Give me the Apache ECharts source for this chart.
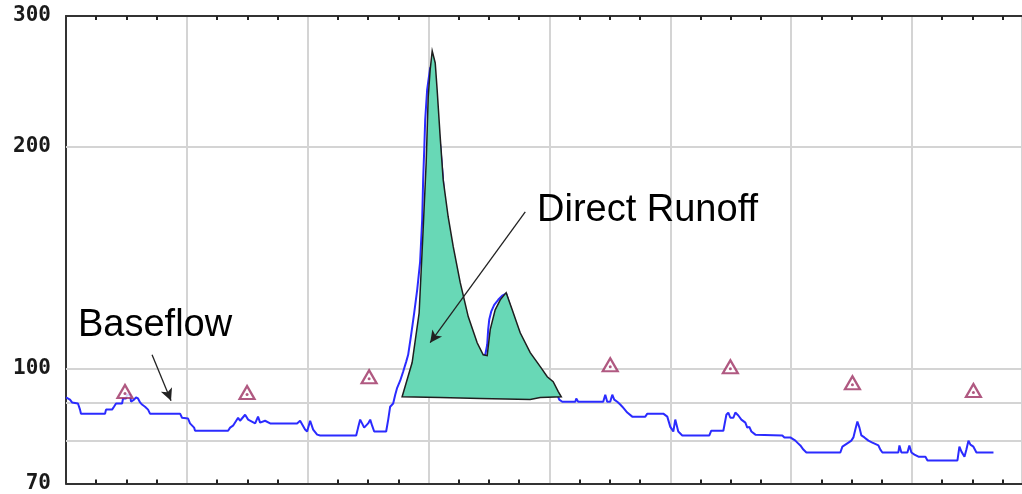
<!DOCTYPE html>
<html>
<head>
<meta charset="utf-8">
<script src="https://cdn.jsdelivr.net/npm/echarts@6/dist/echarts.min.js"></script>
<style>
html,body{margin:0;padding:0;background:#fff;}
#chart{width:1022px;height:494px;}
</style>
</head>
<body>
<div id="chart"></div>
<script>
// ---- data (x in days from chart start, y = discharge) ----
const flowDays = [0,0.033,0.05,0.099,0.116,0.124,0.323,0.331,0.381,0.397,0.414,0.464,0.472,0.497,0.505,0.53,0.538,0.563,0.579,0.596,0.613,0.629,0.654,0.679,0.695,0.944,0.96,1.01,1.026,1.06,1.068,1.341,1.358,1.382,1.424,1.44,1.482,1.507,1.523,1.565,1.589,1.606,1.647,1.689,1.912,1.937,1.978,1.995,2.02,2.045,2.078,2.103,2.401,2.417,2.434,2.45,2.467,2.483,2.5,2.517,2.533,2.55,2.649,2.666,2.682,2.707,2.724,2.74,2.765,2.79,2.815,2.831,2.856,2.881,2.906,2.93,2.947,2.955,2.964,2.972,2.988,3.005,3.013,3.03,3.046,3.063,3.079,3.096,3.113,3.129,3.146,3.171,3.195,3.22,3.245,3.278,3.311,3.344,3.377,3.411,3.444,3.469,3.485,3.493,3.502,3.518,3.543,3.576,3.609,3.642,3.684,3.709,3.742,3.775,3.808,3.841,3.882,3.924,3.965,4.007,4.04,4.065,4.081,4.106,4.214,4.222,4.238,4.445,4.462,4.478,4.503,4.52,4.536,4.561,4.586,4.603,4.644,4.685,4.793,4.81,4.942,4.975,5.0,5.025,5.041,5.066,5.099,5.323,5.339,5.439,5.464,5.48,5.497,5.522,5.538,5.563,5.588,5.604,5.621,5.637,5.654,5.671,5.704,5.72,5.927,5.944,5.96,5.993,6.035,6.051,6.076,6.101,6.126,6.407,6.424,6.474,6.498,6.515,6.531,6.548,6.565,6.581,6.606,6.639,6.672,6.722,6.738,6.755,6.887,6.896,6.912,6.962,6.978,6.995,7.02,7.053,7.111,7.128,7.376,7.392,7.409,7.434,7.45,7.467,7.483,7.508,7.533,7.674];
const flowValues = [91.5,90.9,90.1,89.8,88.1,87.0,87.0,88.1,88.1,88.9,89.8,89.8,91.2,91.2,92.3,92.3,90.3,90.9,91.5,91.2,90.1,89.5,88.9,88.1,87.0,87.0,85.9,85.7,84.4,83.3,82.5,82.5,83.3,83.8,85.9,85.1,86.7,85.4,85.9,84.4,86.2,84.6,85.1,84.4,84.4,85.1,82.8,82.3,85.1,82.8,81.5,81.3,81.3,83.3,85.4,84.4,83.3,83.3,84.4,85.4,83.8,82.3,82.3,85.4,88.9,89.8,92.3,94.3,96.4,99.2,102.3,104.5,111.3,119.1,128.0,139.6,159.1,180.1,197.8,217.1,238.3,249.7,255.2,257.6,245.8,231.0,213.7,200.9,185.8,171.9,161.6,149.5,141.4,134.1,127.2,120.2,114.8,110.2,106.8,105.2,104.2,104.5,107.8,113.0,116.6,119.5,122.1,124.0,125.6,126.4,120.2,116.6,113.0,109.5,106.2,103.6,101.0,99.2,97.6,96.1,94.3,92.3,90.9,90.3,90.3,91.2,90.3,90.3,92.3,90.3,90.3,92.3,90.9,90.3,89.5,88.9,87.3,86.2,86.2,87.0,87.0,86.2,83.5,82.3,85.4,82.3,81.3,81.3,82.5,82.5,86.7,87.3,85.9,85.9,87.3,86.5,85.4,85.4,84.6,83.3,83.5,82.3,81.5,81.3,81.3,80.8,81.3,80.8,80.0,79.5,78.8,77.8,77.1,77.1,78.5,79.5,80.0,80.8,82.8,84.9,83.3,81.3,80.8,80.0,79.5,78.8,77.8,77.1,77.1,78.8,77.1,77.1,78.8,77.1,76.6,76.1,76.1,75.2,75.2,78.5,77.3,76.1,77.8,80.0,79.0,78.5,77.1,77.1];

// Direct runoff polygon outline (hand-drawn area above baseflow separation line)
const runoffDays = [2.781,2.864,2.922,2.955,2.98,2.997,3.013,3.03,3.055,3.071,3.096,3.121,3.162,3.204,3.262,3.328,3.402,3.452,3.485,3.51,3.551,3.593,3.642,3.692,3.758,3.841,3.924,3.982,4.031,4.073,4.098,3.924,3.841,3.427,3.096];
const runoffValues = [91.7,102.0,119.1,154.2,189.9,233.2,253.6,269.1,259.2,238.3,205.9,180.1,160.6,146.3,130.8,117.7,108.5,104.5,104.2,113.0,120.2,124.0,126.8,120.2,111.9,105.2,100.7,97.6,96.1,93.2,91.7,91.5,90.9,91.2,91.5];

// Field measurement markers
const obsDays = [0.488,1.498,2.508,4.503,5.497,6.507,7.508];
const obsValues = [93.2,92.9,97.6,101.3,100.7,95.8,93.5];

// Axis
const yTickLabels = [70,100,200,300];
const yGridValues = [80,90,100,200];
const xMin = 0, xMax = 7.91, xInterval = 1;

// Annotation arrows [startDay, startValue, endDay, endValue]
const baseflowArrow = [0.712,104.5,0.869,90.6];
const runoffArrow = [3.8,163.1,3.013,108.5];

const chart = echarts.init(document.getElementById('chart'), null, {renderer:'canvas'});

const flowData = flowDays.map((d,i)=>[d, flowValues[i]]);
const obsData = obsDays.map((d,i)=>[d, obsValues[i]]);
const runoffPts = runoffDays.map((d,i)=>[d, runoffValues[i]]);

const xCommon = {
  type:'value', min:xMin, max:xMax, interval:xInterval,
  axisLabel:{show:false},
  axisTick:{show:false},
  minorTick:{show:true, splitNumber:4, length:-4, lineStyle:{color:'#222', width:2}},
  axisLine:{show:true, onZero:false, lineStyle:{color:'#333', width:2}}
};

const option = {
  animation:false,
  backgroundColor:'#fff',
  grid:{left:66, right:0, top:16, bottom:10, containLabel:false},
  xAxis:[
    Object.assign({}, xCommon, {position:'bottom',
      splitLine:{show:true, lineStyle:{color:'#d4d4d4', width:2}}}),
    Object.assign({}, xCommon, {position:'top', splitLine:{show:false}})
  ],
  yAxis:{
    type:'log', logBase:10, min:70, max:300,
    axisLine:{show:true, lineStyle:{color:'#333', width:2}},
    axisTick:{show:false},
    splitLine:{show:false},
    minorSplitLine:{show:false},
    axisLabel:{
      customValues: yTickLabels,
      margin:15,
      fontFamily:'DejaVu Sans Mono',
      fontWeight:'bold',
      fontSize:21,
      color:'#1a1a1a'
    }
  },
  graphic:[
    {type:'text', x:78, y:326, z:100, style:{text:'Baseflow', font:'38px "Liberation Sans", Arial, sans-serif', fill:'#000', verticalAlign:'middle'}},
    {type:'text', x:537, y:211, z:100, style:{text:'Direct Runoff', font:'38px "Liberation Sans", Arial, sans-serif', fill:'#000', verticalAlign:'middle'}}
  ],
  series:[
    {
      type:'line', data:[], z:1, silent:true,
      markLine:{
        z:1, silent:true, symbol:'none', label:{show:false},
        lineStyle:{color:'#d4d4d4', width:2, type:'solid'},
        data: yGridValues.map(v=>({yAxis:v}))
      }
    },
    {
      name:'Flow', type:'line', data:flowData, z:3,
      showSymbol:false, symbol:'none',
      lineStyle:{color:'#2b2bff', width:2},
      silent:true
    },
    {
      name:'Direct Runoff', type:'custom', z:5, silent:true,
      data:[runoffPts[0]],
      renderItem:function(params, api){
        const pts = runoffPts.map(p=>api.coord(p));
        return {
          type:'polygon',
          shape:{points:pts},
          style:{fill:'#68d8b6', stroke:'#1e1e1e', lineWidth:1.5}
        };
      }
    },
    {
      name:'Measurements', type:'scatter', data:obsData, z:6,
      symbol:'triangle', symbolSize:[15,13],
      itemStyle:{color:'#ffffff', borderColor:'#9c2f62', borderWidth:2.2},
      silent:true
    },
    {
      type:'scatter', data:obsData, z:7,
      symbol:'circle', symbolSize:3, symbolOffset:[0,2],
      itemStyle:{color:'#9c2f62'}, silent:true
    },
    {
      type:'line', data:[], z:20, silent:true,
      markLine:{
        z:20, silent:true, symbol:['none','arrow'], symbolSize:[9,12],
        label:{show:false},
        lineStyle:{color:'#222', width:1.3, type:'solid'},
        data:[
          [{coord:[baseflowArrow[0], baseflowArrow[1]]},{coord:[baseflowArrow[2], baseflowArrow[3]]}],
          [{coord:[runoffArrow[0], runoffArrow[1]]},{coord:[runoffArrow[2], runoffArrow[3]]}]
        ]
      }
    }
  ]
};
chart.setOption(option);
</script>
</body>
</html>
